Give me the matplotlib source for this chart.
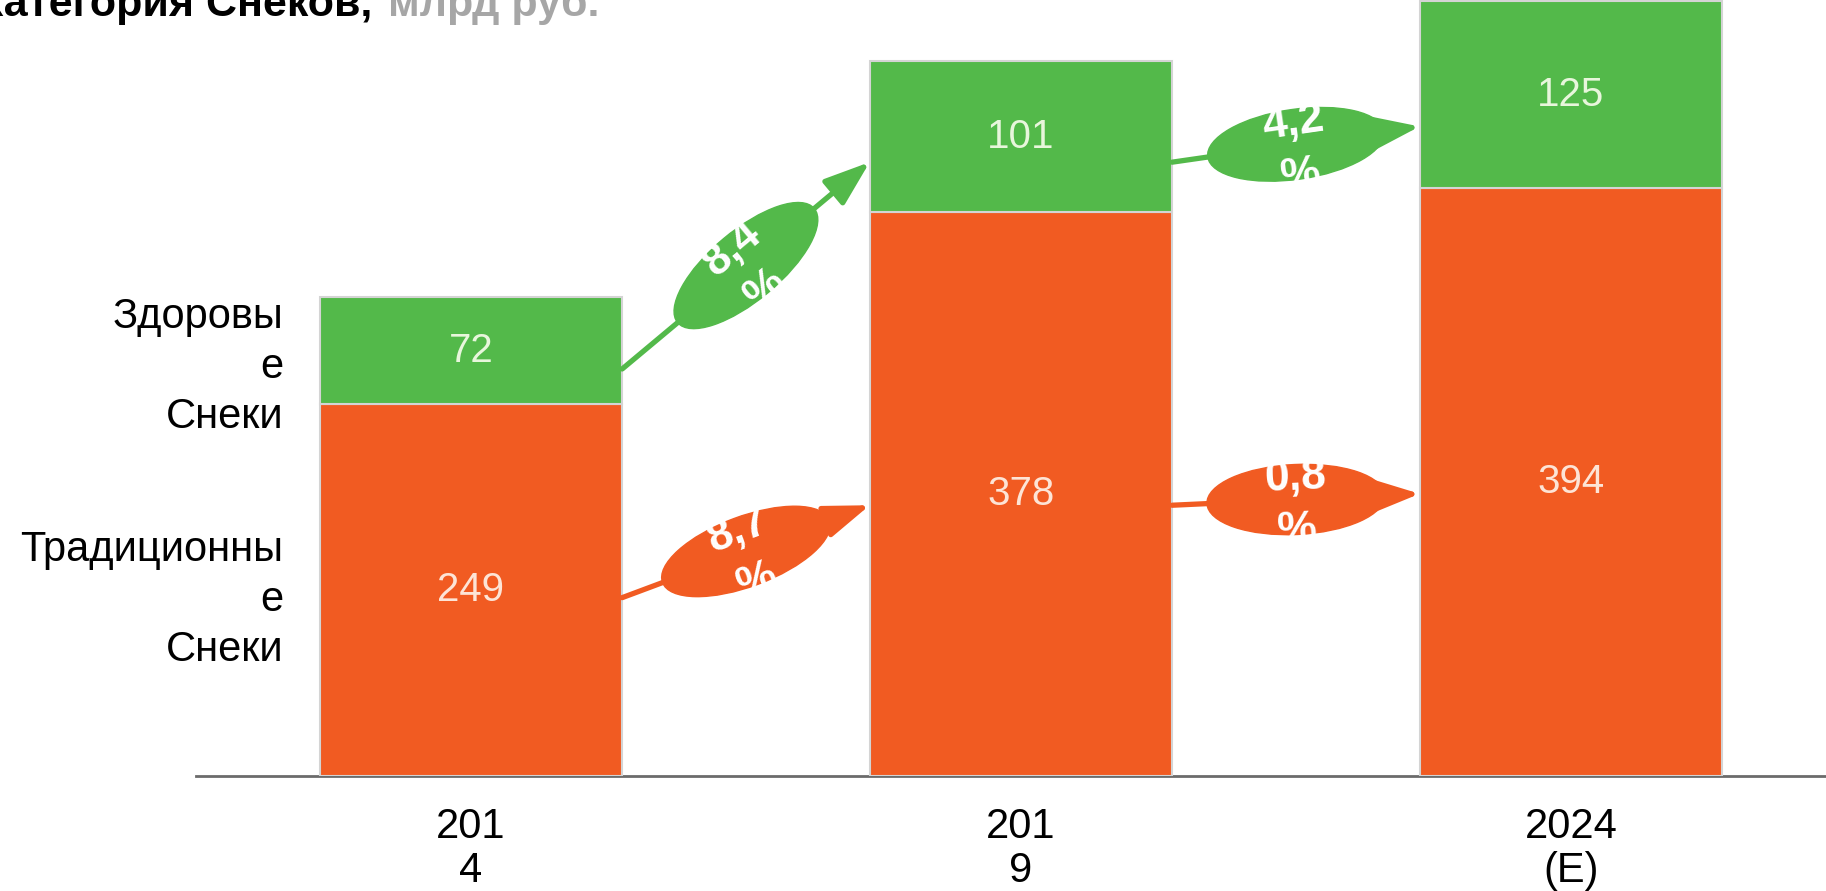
import math
import matplotlib.pyplot as plt
from matplotlib.patches import Ellipse, FancyArrowPatch
from matplotlib.transforms import IdentityTransform

plt.rcParams['font.family'] = ['Liberation Sans', 'DejaVu Sans']

# data
years = ['201\n4', '201\n9', '2024\n(E)']
traditional = [249, 378, 394]
healthy = [72, 101, 125]
cagr_traditional = ['8,7\n%', '0,8\n%']
cagr_healthy = ['8,4\n%', '4,2\n%']

green = '#53b94a'
orange = '#f15b22'

W, H = 1826, 891
fig = plt.figure(figsize=(W / 100, H / 100), dpi=100)
ax = fig.add_axes([196 / W, 115 / H, 1 - 196 / W, 776 / H])

x = list(range(len(years)))
bw = 0.55
ax.bar(x, traditional, width=bw, color=orange, edgecolor='#d4d4d4',
       linewidth=1.5, zorder=3)
ax.bar(x, healthy, bottom=traditional, width=bw, color=green,
       edgecolor='#d4d4d4', linewidth=1.5, zorder=3)
ax.set_xlim(-0.5, 2.464)
ax.set_ylim(0, 520)

for s in ['top', 'right', 'left']:
    ax.spines[s].set_visible(False)
ax.spines['bottom'].set_color('#6b6b6b')
ax.spines['bottom'].set_linewidth(2)
ax.set_yticks([])
ax.set_xticks(x)
ax.set_xticklabels(years, fontsize=30, linespacing=1.15)
ax.tick_params(axis='x', length=0, pad=22)

# values inside the bars
for i in x:
    ax.text(i, traditional[i] / 2, str(traditional[i]), ha='center',
            va='center', fontsize=29, color='#fde4d6', zorder=4)
    ax.text(i, traditional[i] + healthy[i] / 2, str(healthy[i]), ha='center',
            va='center', fontsize=29, color='#e8f6dc', zorder=4)


def growth(i, bottoms, values, frac, color, label):
    x0, y0 = i + bw / 2, bottoms[i] + values[i] * frac
    x1, y1 = i + 1 - bw / 2, bottoms[i + 1] + values[i + 1] * frac
    ax.add_patch(FancyArrowPatch((x0, y0), (x1, y1),
                                 arrowstyle='-|>,head_length=1.4,head_width=0.5',
                                 mutation_scale=20, color=color, lw=3.8,
                                 shrinkA=0, shrinkB=0, zorder=4))
    p0 = ax.transData.transform((x0, y0))
    p1 = ax.transData.transform((x1, y1))
    cx, cy = (p0 + p1) / 2
    ang = math.degrees(math.atan2(p1[1] - p0[1], p1[0] - p0[0]))
    e = Ellipse((cx, cy), 178, 70, angle=ang, transform=IdentityTransform(),
                color=color, zorder=5)
    ax.add_patch(e)
    # two lines of text, 53 px apart, clipped by the ellipse
    t = math.radians(ang)
    for k, line in enumerate(label.split('\n')):
        d = (k - 0.5) * 53 + 5
        ax.text(cx + d * math.sin(t), cy - d * math.cos(t), line,
                transform=IdentityTransform(), rotation=ang,
                rotation_mode='anchor', ha='center', va='center',
                fontsize=32, fontweight='bold', color='white', zorder=6,
                clip_path=e)


zeros = [0] * len(years)
for i in range(len(years) - 1):
    growth(i, traditional, healthy, 0.33, green, cagr_healthy[i])
    growth(i, zeros, traditional, 0.48, orange, cagr_traditional[i])

# legend labels on the left
fig.text(283 / W, 1 - 367 / H, 'Здоровы\nе\nСнеки', ha='right', va='center',
         multialignment='right', fontsize=30, linespacing=1.32)
fig.text(283 / W, 1 - 600 / H, 'Традиционны\nе\nСнеки', ha='right',
         va='center', multialignment='right', fontsize=30, linespacing=1.32)

# title, cut by the top edge
fig.text(372 / W, 1 - 16 / H, 'Категория Снеков,', fontsize=31,
         fontweight='bold', va='baseline', ha='right')
fig.text(388 / W, 1 - 16 / H, 'млрд руб.', fontsize=31, fontweight='bold',
         color='#a6a6a6', va='baseline', ha='left')

fig.savefig('out.png', dpi=100)
